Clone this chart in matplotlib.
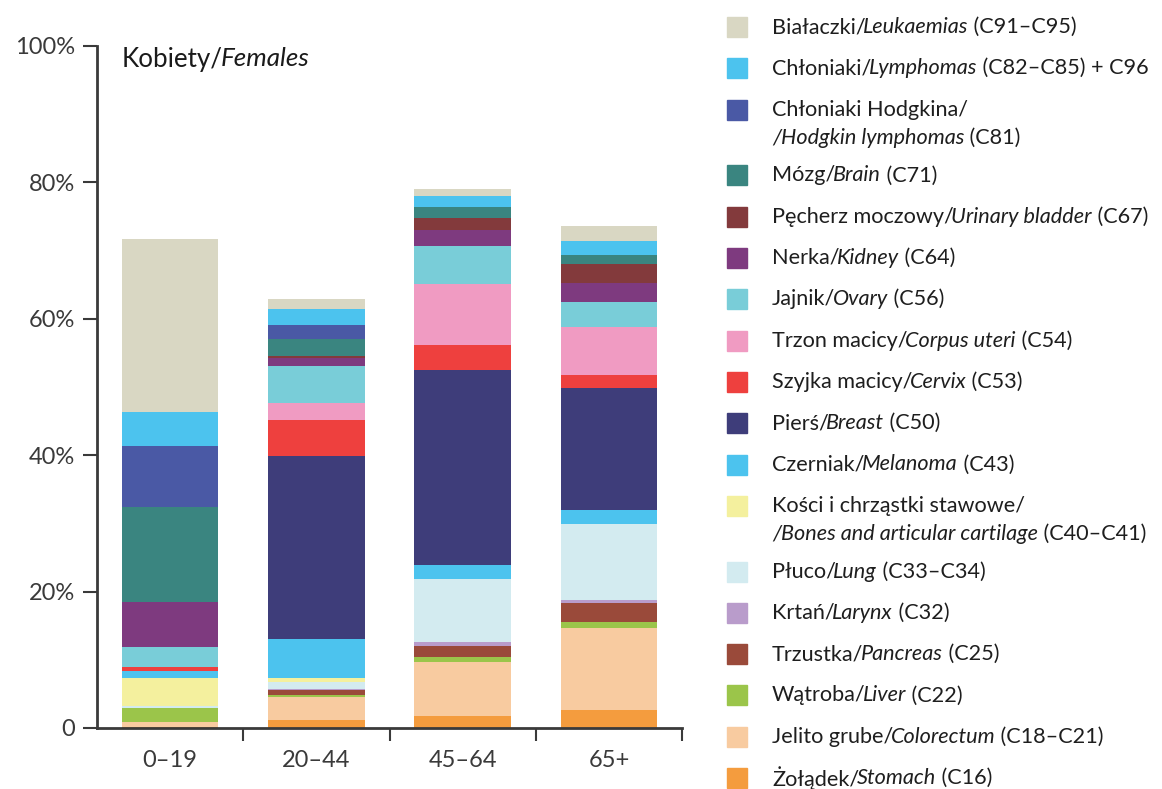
import matplotlib
matplotlib.use("Agg")
import matplotlib.pyplot as plt
from matplotlib.patches import Rectangle
import numpy as np

plt.rcParams['font.family'] = ['Lato', 'DejaVu Sans']

categories = ['0–19', '20–44', '45–64', '65+']

# shares in %, per age group (bottom of stack first)
stomach    = [0.2, 1.1, 1.8, 2.6]
colorectum = [0.7, 3.4, 7.9, 12.0]
liver      = [2.1, 0.3, 0.7, 0.9]
pancreas   = [0.0, 0.8, 1.6, 2.9]
larynx     = [0.0, 0.1, 0.6, 0.4]
lung       = [0.2, 1.0, 9.2, 11.1]
bones      = [4.1, 0.7, 0.0, 0.0]
melanoma   = [1.1, 5.6, 2.1, 2.0]
breast     = [0.0, 26.9, 28.6, 18.0]
cervix     = [0.6, 5.3, 3.7, 1.9]
corpus     = [0.0, 2.4, 8.9, 7.0]
ovary      = [2.9, 5.5, 5.6, 3.7]
kidney     = [6.6, 1.1, 2.3, 2.7]
bladder    = [0.0, 0.4, 1.8, 2.8]
brain      = [13.9, 2.4, 1.6, 1.35]
hodgkin    = [8.9, 2.1, 0.0, 0.0]
lymphomas  = [5.1, 2.3, 1.6, 2.05]
leukaemias = [25.3, 1.5, 1.1, 2.25]

# (values, colour, legend lines as [(text, italic), ...])
series = [
    (stomach,    '#F49C3E', [[('Żołądek/', 0), ('Stomach', 1), (' (C16)', 0)]]),
    (colorectum, '#F8CBA0', [[('Jelito grube/', 0), ('Colorectum', 1), (' (C18–C21)', 0)]]),
    (liver,      '#9BC54A', [[('Wątroba/', 0), ('Liver', 1), (' (C22)', 0)]]),
    (pancreas,   '#9A4A3A', [[('Trzustka/', 0), ('Pancreas', 1), (' (C25)', 0)]]),
    (larynx,     '#B99CCB', [[('Krtań/', 0), ('Larynx', 1), (' (C32)', 0)]]),
    (lung,       '#D3EBF0', [[('Płuco/', 0), ('Lung', 1), (' (C33–C34)', 0)]]),
    (bones,      '#F4F09E', [[('Kości i chrząstki stawowe/', 0)],
                             [('/Bones and articular cartilage', 1), (' (C40–C41)', 0)]]),
    (melanoma,   '#4CC3EE', [[('Czerniak/', 0), ('Melanoma', 1), (' (C43)', 0)]]),
    (breast,     '#3E3D7A', [[('Pierś/', 0), ('Breast', 1), (' (C50)', 0)]]),
    (cervix,     '#EE403E', [[('Szyjka macicy/', 0), ('Cervix', 1), (' (C53)', 0)]]),
    (corpus,     '#F09BC2', [[('Trzon macicy/', 0), ('Corpus uteri', 1), (' (C54)', 0)]]),
    (ovary,      '#79CDD8', [[('Jajnik/', 0), ('Ovary', 1), (' (C56)', 0)]]),
    (kidney,     '#7E3A7F', [[('Nerka/', 0), ('Kidney', 1), (' (C64)', 0)]]),
    (bladder,    '#833A3C', [[('Pęcherz moczowy/', 0), ('Urinary bladder', 1), (' (C67)', 0)]]),
    (brain,      '#3A8580', [[('Mózg/', 0), ('Brain', 1), (' (C71)', 0)]]),
    (hodgkin,    '#4A59A5', [[('Chłoniaki Hodgkina/', 0)],
                             [('/Hodgkin lymphomas', 1), (' (C81)', 0)]]),
    (lymphomas,  '#4CC3EE', [[('Chłoniaki/', 0), ('Lymphomas', 1), (' (C82–C85) + C96', 0)]]),
    (leukaemias, '#D9D7C3', [[('Białaczki/', 0), ('Leukaemias', 1), (' (C91–C95)', 0)]]),
]

W, H = 1162, 789
fig = plt.figure(figsize=(W / 100, H / 100), dpi=100)
ax = fig.add_axes([97 / W, 61 / H, 585 / W, 682 / H])

x = np.arange(len(categories))
bottom = np.zeros(len(categories))
for vals, col, _ in series:
    ax.bar(x, vals, width=0.66, bottom=bottom, color=col, linewidth=0)
    bottom += np.array(vals)

ax.set_xlim(-0.5, 3.5)
ax.set_ylim(0, 100)
for s in ['top', 'right']:
    ax.spines[s].set_visible(False)
for s in ['left', 'bottom']:
    ax.spines[s].set_linewidth(2)
    ax.spines[s].set_color('#3a3a3a')

ax.set_yticks([0, 20, 40, 60, 80, 100])
ax.set_yticklabels(['0', '20%', '40%', '60%', '80%', '100%'])
ax.tick_params(axis='y', direction='out', length=10, width=1.5, pad=6,
               labelsize=17, colors='#3a3a3a')
ax.set_xticks(x)
ax.set_xticklabels(categories)
ax.tick_params(axis='x', which='major', length=0, pad=16, labelsize=17, colors='#3a3a3a')
ax.set_xticks([0.5, 1.5, 2.5, 3.5], minor=True)
ax.tick_params(axis='x', which='minor', direction='out', length=9, width=1.5, color='#3a3a3a')

renderer = fig.canvas.get_renderer()


def rich(xp, yp, parts, size, color='#1e1e1e'):
    # draw text pieces one after another, xp/yp in pixels from top-left
    prev_it = None
    for txt, it in parts:
        if it and prev_it == 0:
            xp -= 2.5
        t = fig.text(xp / W, 1 - yp / H, txt, fontsize=size, va='center', ha='left',
                     style='italic' if it else 'normal', color=color)
        xp += t.get_window_extent(renderer).width
        prev_it = it


rich(122, 59, [('Kobiety/', 0), ('Females', 1)], 18.7, '#1a1a1a')

# legend, top entry first
y = 27
for vals, col, lines in reversed(series):
    fig.patches.append(Rectangle((727 / W, 1 - (y + 10) / H), 20 / W, 20 / H,
                                 transform=fig.transFigure, color=col, figure=fig))
    for i, parts in enumerate(lines):
        rich(772, y + i * 28, parts, 15.6)
    y += 41.3 + (24.5 if len(lines) > 1 else 0)

fig.savefig('out.png', dpi=100)
